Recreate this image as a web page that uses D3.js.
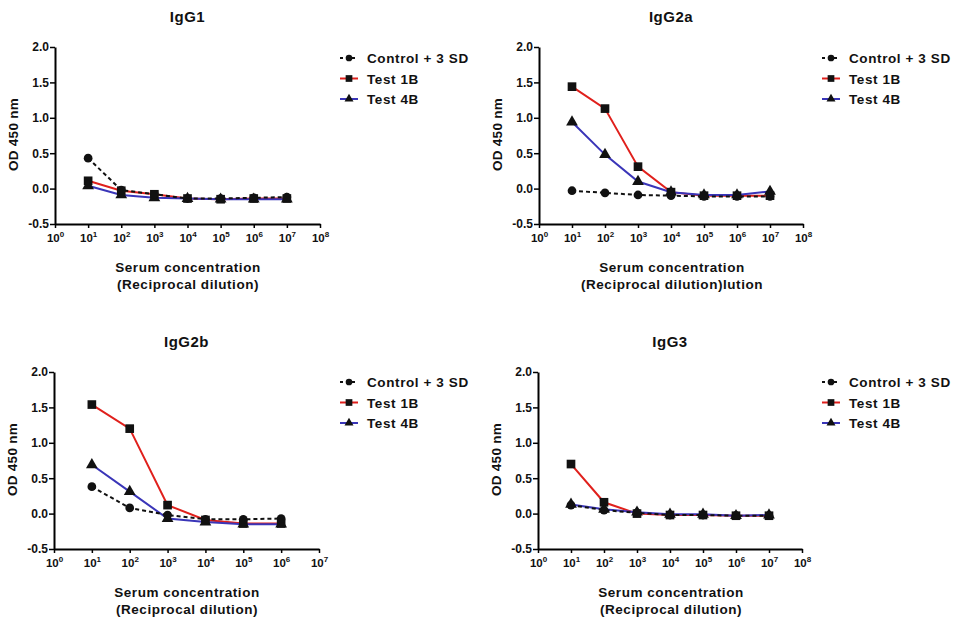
<!DOCTYPE html>
<html>
<head>
<meta charset="utf-8">
<script src="https://cdn.jsdelivr.net/npm/d3@7"></script>
<style>
  body { margin: 0; background: #fff; }
  svg { font-family: "Liberation Sans", Arial, sans-serif; }
</style>
</head>
<body>
<svg id="chart" width="955" height="619"></svg>
<script>
// Dilution points (reciprocal dilution, log10 exponents)
const dilutions7 = [1, 2, 3, 4, 5, 6, 7];
const dilutions6 = [1, 2, 3, 4, 5, 6];
const yTicks = [-0.5, 0.0, 0.5, 1.0, 1.5, 2.0];
const seriesNames = ["Control + 3 SD", "Test 1B", "Test 4B"];

// OD 450 nm readings per isotype
const igg1Control = [0.43, -0.02, -0.08, -0.14, -0.14, -0.13, -0.12];
const igg1Test1B  = [0.11, -0.03, -0.08, -0.14, -0.15, -0.14, -0.14];
const igg1Test4B  = [0.04, -0.09, -0.13, -0.14, -0.15, -0.15, -0.15];

const igg2aControl = [-0.03, -0.06, -0.09, -0.10, -0.11, -0.11, -0.11];
const igg2aTest1B  = [1.44, 1.13, 0.31, -0.05, -0.10, -0.10, -0.10];
const igg2aTest4B  = [0.94, 0.48, 0.10, -0.05, -0.09, -0.09, -0.04];

const igg2bControl = [0.38, 0.08, -0.02, -0.08, -0.08, -0.07];
const igg2bTest1B  = [1.54, 1.20, 0.12, -0.09, -0.14, -0.14];
const igg2bTest4B  = [0.69, 0.31, -0.07, -0.12, -0.15, -0.15];

const igg3Control = [0.12, 0.05, 0.01, -0.02, -0.02, -0.03, -0.03];
const igg3Test1B  = [0.70, 0.16, 0.00, -0.02, -0.02, -0.03, -0.03];
const igg3Test4B  = [0.13, 0.06, 0.02, -0.01, -0.01, -0.03, -0.02];

const svg = d3.select("#chart");

const panels = [
  { title: "IgG1", left: 55, top: 47, width: 265, height: 177, maxExp: 8, xs: dilutions7,
    series: [igg1Control, igg1Test1B, igg1Test4B],
    xLabel: ["Serum concentration", "(Reciprocal dilution)"], legendX: 340, legendY: 58 },
  { title: "IgG2a", left: 539, top: 47, width: 264, height: 177, maxExp: 8, xs: dilutions7,
    series: [igg2aControl, igg2aTest1B, igg2aTest4B],
    xLabel: ["Serum concentration", "(Reciprocal dilution)lution"], legendX: 822, legendY: 58 },
  { title: "IgG2b", left: 54, top: 372, width: 265, height: 177, maxExp: 7, xs: dilutions6,
    series: [igg2bControl, igg2bTest1B, igg2bTest4B],
    xLabel: ["Serum concentration", "(Reciprocal dilution)"], legendX: 340, legendY: 382 },
  { title: "IgG3", left: 538, top: 372, width: 264, height: 177, maxExp: 8, xs: dilutions7,
    series: [igg3Control, igg3Test1B, igg3Test4B],
    xLabel: ["Serum concentration", "(Reciprocal dilution)"], legendX: 822, legendY: 382 }
];

const styles = [
  { stroke: "#111", dash: "4,3", shape: d3.symbolCircle },
  { stroke: "#e0201c", dash: null, shape: d3.symbolSquare },
  { stroke: "#3a35b8", dash: null, shape: d3.symbolTriangle }
];

const textStyle = sel => sel.attr("font-weight", "bold").attr("fill", "#111");

function drawPanel(p) {
  const g = svg.append("g").attr("transform", `translate(${p.left},${p.top})`);
  const x = d3.scaleLog().domain([1, Math.pow(10, p.maxExp)]).range([0, p.width]);
  const y = d3.scaleLinear().domain([-0.5, 2.0]).range([p.height, 0]);

  // title
  svg.append("text")
    .attr("x", p.left + p.width / 2).attr("y", p.top - 25)
    .attr("text-anchor", "middle").attr("font-size", 15).attr("letter-spacing", 0.5)
    .call(textStyle).text(p.title);

  // y axis
  const yAxis = g.append("g").call(d3.axisLeft(y).tickValues(yTicks)
    .tickFormat(d => d.toFixed(1)).tickSize(5).tickSizeOuter(0));
  yAxis.select(".domain").attr("stroke-width", 2);
  yAxis.selectAll(".tick line").attr("stroke-width", 1.5);
  yAxis.selectAll("text").attr("font-size", 12).attr("x", -6).call(textStyle);

  // x axis with powers of ten
  const xVals = d3.range(0, p.maxExp + 1).map(e => Math.pow(10, e));
  const xAxis = g.append("g").attr("transform", `translate(0,${p.height})`)
    .call(d3.axisBottom(x).tickValues(xVals).tickFormat("").tickSize(4).tickSizeOuter(0));
  xAxis.select(".domain").attr("stroke-width", 2);
  xAxis.selectAll(".tick line").attr("stroke-width", 1.5);
  xAxis.selectAll(".tick").each(function(d) {
    const t = d3.select(this).append("text")
      .attr("y", 18).attr("text-anchor", "middle").attr("font-size", 11.5).call(textStyle);
    t.append("tspan").text("10");
    t.append("tspan").attr("dy", -5).attr("font-size", 8).text(Math.round(Math.log10(d)));
  });

  // axis titles
  svg.append("text")
    .attr("transform", `translate(${p.left - 37},${p.top + p.height / 2 - 1}) rotate(-90)`)
    .attr("text-anchor", "middle").attr("font-size", 13.5).attr("letter-spacing", 0.3)
    .call(textStyle).text("OD 450 nm");
  p.xLabel.forEach((s, i) => {
    svg.append("text")
      .attr("x", p.left + 133).attr("y", p.top + p.height + 48 + i * 17)
      .attr("text-anchor", "middle").attr("font-size", 13.5).attr("letter-spacing", 0.55)
      .call(textStyle).text(s);
  });

  // series lines and markers
  const line = d3.line().x((d, i) => x(Math.pow(10, p.xs[i]))).y(d => y(d));
  const order = [1, 2, 0];
  order.forEach(si => {
    const vals = p.series[si], st = styles[si];
    g.append("path").datum(vals).attr("d", line)
      .attr("fill", "none").attr("stroke", st.stroke).attr("stroke-width", 2)
      .attr("stroke-dasharray", st.dash);
  });
  order.forEach(si => {
    const vals = p.series[si], st = styles[si];
    g.selectAll(null).data(vals).enter().append("path")
      .attr("transform", (d, i) => `translate(${x(Math.pow(10, p.xs[i]))},${y(d)})`)
      .attr("d", d3.symbol().type(st.shape).size(si === 1 ? 75 : 60))
      .attr("fill", "#111");
  });

  // legend
  const lg = svg.append("g").attr("transform", `translate(${p.legendX},${p.legendY})`);
  seriesNames.forEach((name, i) => {
    const row = lg.append("g").attr("transform", `translate(0,${i * 20.5})`);
    row.append("line").attr("x1", 0).attr("x2", 18).attr("y1", 0).attr("y2", 0)
      .attr("stroke", styles[i].stroke).attr("stroke-width", 2)
      .attr("stroke-dasharray", i === 0 ? "3,3" : null);
    row.append("path").attr("transform", "translate(9,0)")
      .attr("d", d3.symbol().type(styles[i].shape).size(i === 1 ? 45 : 35)).attr("fill", "#111");
    row.append("text").attr("x", 27).attr("y", 5)
      .attr("font-size", 13.5).attr("letter-spacing", 0.6).call(textStyle).text(name);
  });
}

panels.forEach(drawPanel);
</script>
</body>
</html>
